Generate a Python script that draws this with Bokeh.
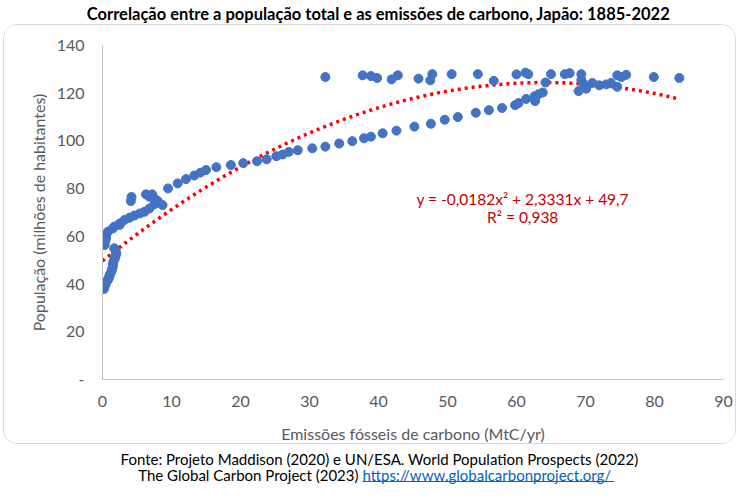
from bokeh.plotting import figure
from bokeh.layouts import column
from bokeh.models import Range1d, Label
from bokeh.embed import file_html
from bokeh.resources import INLINE
import numpy as np

# ---- data ----
emissions = [
    # lower chain
    0.2, 0.3, 0.4, 0.5, 0.6, 0.8, 0.9, 1.0, 1.1, 1.3, 1.4, 1.5, 1.5, 1.6, 1.8, 1.9, 2.0, 1.9, 1.7,
    # upper chain
    0.3, 0.4, 0.5, 0.5, 0.8, 1.5, 1.7, 2.5, 2.5, 3.2, 3.9, 4.6, 5.4, 6.1, 6.8, 7.5, 8.0, 8.7,
    # small cluster
    4.2, 4.1, 6.3, 6.8, 7.2, 7.5,
    # middle chain
    9.5, 10.9, 12.1, 13.3, 14.2, 15.0, 16.5, 18.6, 20.4, 22.4, 23.8, 25.2, 26.1, 27.0, 28.3,
    30.4, 32.3, 34.3, 36.2, 37.9, 38.9, 40.6, 42.6, 45.2, 47.6, 49.6, 51.5, 54.1, 56.0, 57.9,
    59.8, 60.3, 61.4, 62.6, 62.7, 63.2, 63.8, 64.2,
    # top row
    32.3, 37.7, 38.9, 39.8, 41.9, 42.8, 45.8, 47.5, 47.8, 50.6, 54.4, 56.7, 60.0, 61.3, 61.7,
    65.0, 67.0, 67.7, 69.4, 69.4, 74.6, 75.2, 75.9, 79.9, 83.6,
    # descending cluster
    69.0, 70.1, 69.7, 71.0, 72.0, 73.0, 73.7, 74.6,
]
population = [
    37.9, 39.0, 39.7, 40.4, 41.1, 41.8, 42.5, 43.2, 44.2, 45.3, 46.3, 47.4, 48.5, 49.5, 50.8, 51.9, 52.9, 54.0, 55.0,
    56.4, 57.9, 59.0, 60.0, 62.0, 63.3, 64.1, 64.8, 65.4, 66.9, 67.8, 68.7, 69.6, 70.3, 71.7, 73.4, 74.8, 73.1,
    76.5, 74.8, 77.6, 76.6, 77.6, 75.9,
    80.1, 82.2, 84.0, 85.5, 86.7, 87.8, 89.0, 89.9, 90.7, 91.5, 92.3, 93.6, 94.3, 95.4, 96.1,
    96.9, 97.6, 98.9, 99.9, 101.1, 101.8, 103.2, 104.3, 106.0, 107.2, 108.9, 110.0, 111.8, 112.9, 113.8,
    115.0, 115.9, 117.6, 118.7, 116.7, 119.6, 120.3, 124.5,
    126.8, 127.5, 127.2, 126.4, 125.8, 127.5, 126.1, 125.4, 128.0, 128.0, 128.0, 125.2, 127.9, 128.6, 128.0,
    128.0, 128.0, 128.4, 128.0, 125.6, 127.5, 126.8, 127.7, 126.8, 126.4,
    120.9, 121.9, 124.0, 124.3, 123.3, 123.7, 124.3, 122.7,
]

trend_a, trend_b, trend_c = -0.0182, 2.3331, 49.7
equation_text = "y = -0,0182x² + 2,3331x + 49,7"
r2_text = "R² = 0,938"

x_ticks = [0, 10, 20, 30, 40, 50, 60, 70, 80, 90]
y_ticks = [0, 20, 40, 60, 80, 100, 120, 140]
y_tick_labels = {0: "-"}

title_text = "Correlação entre a população total e as emissões de carbono, Japão: 1885-2022"
x_title = "Emissões fósseis de carbono (MtC/yr)"
y_title = "População (milhões de habitantes)"
source_1 = "Fonte: Projeto Maddison (2020) e UN/ESA. World Population Prospects (2022)"
source_2a = "The Global Carbon Project (2023)"
source_2b = "https://www.globalcarbonproject.org/"

FONT = "Lato"
GRAY = "#595959"
W = 740


def text_strip(height):
    f = figure(width=W, height=height, output_backend="svg", toolbar_location=None,
               x_range=Range1d(0, W), y_range=Range1d(height, 0),
               x_axis_location=None, y_axis_location=None,
               min_border=0, min_border_left=0, min_border_right=0,
               min_border_top=0, min_border_bottom=0)
    f.frame_align = False
    f.grid.visible = False
    f.outline_line_color = None
    f.background_fill_color = "white"
    f.border_fill_color = "white"
    return f


# ---- title strip ----
pt = text_strip(24)
pt.add_layout(Label(x=378, y=13, text=title_text, text_font=FONT, text_font_size="16.5px",
                    text_font_style="bold", text_color="black",
                    text_align="center", text_baseline="middle"))

# ---- main chart (rounded border box) ----
p = figure(width=733, height=420, output_backend="svg", toolbar_location=None,
           x_range=Range1d(0, 90), y_range=Range1d(0, 140),
           min_border_left=98, min_border_right=14, min_border_top=20, min_border_bottom=65)
p.frame_align = False
p.margin = (0, 0, 0, 3)
p.styles = {"border": "1px solid #D9D9D9", "border-radius": "14px", "overflow": "hidden"}
p.outline_line_color = None
p.grid.visible = False
p.background_fill_color = "white"
p.border_fill_color = "white"

for ax in (p.xaxis[0], p.yaxis[0]):
    ax.axis_line_color = "#BFBFBF"
    ax.major_tick_line_color = None
    ax.minor_tick_line_color = None
    ax.major_tick_out = 0
    ax.major_tick_in = 0
    ax.minor_tick_out = 0
    ax.major_label_text_font = FONT
    ax.major_label_text_font_size = "16px"
    ax.major_label_text_color = GRAY
    ax.axis_label_text_font = FONT
    ax.axis_label_text_font_size = "16px"
    ax.axis_label_text_font_style = "normal"
    ax.axis_label_text_color = GRAY

p.xaxis.ticker = x_ticks
p.yaxis.ticker = y_ticks
p.yaxis.major_label_overrides = y_tick_labels
p.xaxis.axis_label = x_title
p.yaxis.axis_label = y_title
p.xaxis.major_label_standoff = 16
p.xaxis.axis_label_standoff = 14
p.yaxis.major_label_standoff = 18
p.yaxis.axis_label_standoff = 6

tx = np.linspace(0, max(emissions), 300)
ty = trend_a * tx ** 2 + trend_b * tx + trend_c
p.line(tx, ty, line_color="#FF0000", line_width=3.5, line_dash="3 4")

p.scatter(emissions, population, size=9, fill_color="#4472C4", line_color="#4472C4")

p.add_layout(Label(x=60.9, y=75.6, text=equation_text, text_font=FONT, text_font_size="15.5px",
                   text_color="#C00000", text_baseline="middle", text_align="center"))
p.add_layout(Label(x=60.9, y=68.1, text=r2_text, text_font=FONT, text_font_size="15.5px",
                   text_color="#C00000", text_baseline="middle", text_align="center"))

# ---- source strip ----
ps = text_strip(40)
ps.add_layout(Label(x=379, y=14, text=source_1, text_font=FONT, text_font_size="15px",
                    text_color="black", text_align="center", text_baseline="middle"))
ps.add_layout(Label(x=358, y=30, text=source_2a, text_font=FONT, text_font_size="15px",
                    text_color="black", text_align="right", text_baseline="middle"))
ps.add_layout(Label(x=362, y=30, text=source_2b, text_font=FONT, text_font_size="15px",
                    text_color="#0563C1", text_align="left", text_baseline="middle"))
ps.segment(x0=[362], y0=[37], x1=[614], y1=[37], line_color="#0563C1", line_width=1)

layout = column(pt, p, ps, spacing=0)
open("out.html", "w").write(file_html(layout, INLINE))
